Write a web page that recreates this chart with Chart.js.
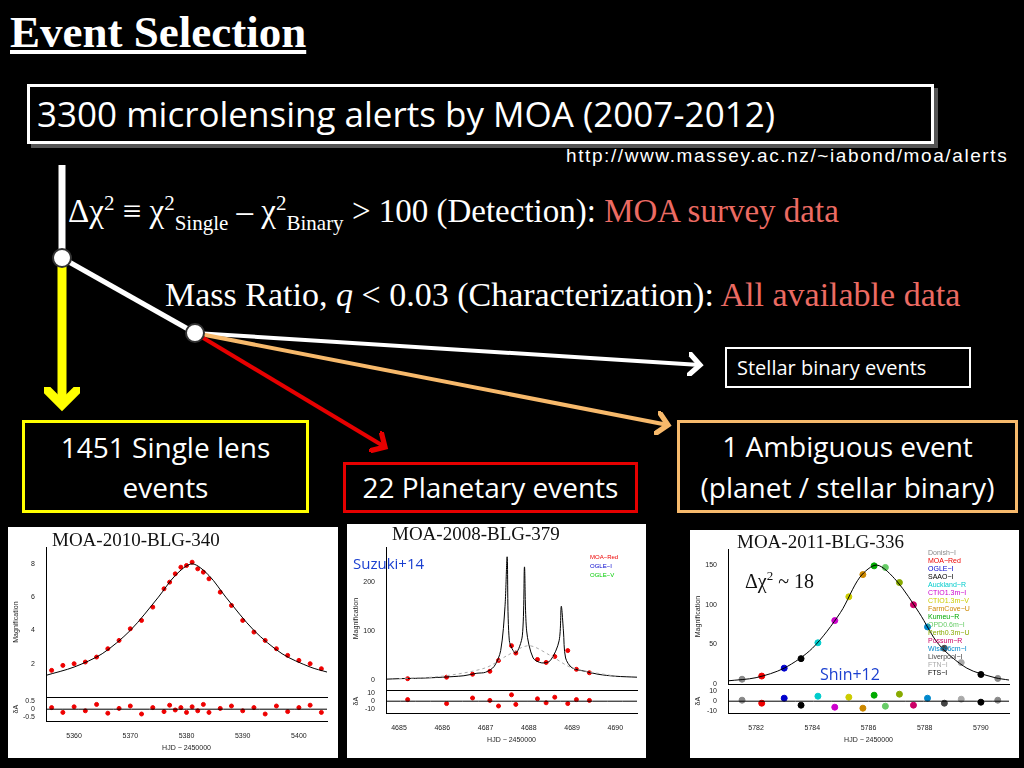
<!DOCTYPE html>
<html><head><meta charset="utf-8">
<script src="https://cdn.jsdelivr.net/npm/chart.js"></script>
<style>
body{margin:0;width:1024px;height:768px;background:#000;position:relative;overflow:hidden;font-family:"Open Sans",sans-serif;color:#fff}
.a{position:absolute;white-space:nowrap}
.serif{font-family:"Liberation Serif",serif}
.box{position:absolute;box-sizing:border-box;text-align:center;color:#fff;white-space:nowrap}
.panel{position:absolute;background:#fff}
canvas{position:absolute}
.pt{position:absolute;font-family:"Liberation Serif",serif;color:#111;font-size:19px;white-space:nowrap}
sub,sup{line-height:0}
</style></head><body>
<div class="a serif" style="left:10px;top:6px;font-size:45px;font-weight:bold;text-decoration:underline">Event Selection</div>
<div class="box" style="left:27px;top:84px;width:907px;height:60px;border:3px solid #fff;box-shadow:4px 4px 0 #555;font-size:35px;line-height:54px;text-align:left;padding-left:7px">3300 microlensing alerts by MOA (2007-2012)</div>
<div class="a" style="left:566px;top:145px;font-family:'Liberation Sans',sans-serif;font-size:19px;letter-spacing:1.6px">http://www.massey.ac.nz/~iabond/moa/alerts</div>
<div class="a serif" style="left:68px;top:193px;font-size:33px">Δχ<sup style="font-size:21px">2</sup> ≡ χ<sup style="font-size:21px">2</sup><sub style="font-size:21px">Single</sub> – χ<sup style="font-size:21px">2</sup><sub style="font-size:21px">Binary</sub> &gt; 100 (Detection): <span style="color:#ec6b63">MOA survey data</span></div>
<div class="a serif" style="left:165px;top:276px;font-size:34px">Mass Ratio, <i>q</i> &lt; 0.03 (Characterization): <span style="color:#ec6b63">All available data</span></div>
<svg width="1024" height="768" style="position:absolute;left:0;top:0">
<defs>
<marker id="mw" markerWidth="6" markerHeight="6" refX="3" refY="3" orient="auto"><path d="M0,0 L3,3 L0,6" fill="none" stroke="#fff" stroke-width="1.3"/></marker>
<marker id="mo" markerWidth="6" markerHeight="6" refX="3" refY="3" orient="auto"><path d="M0,0 L3,3 L0,6" fill="none" stroke="#f7b96b" stroke-width="1.3"/></marker>
<marker id="mr" markerWidth="6" markerHeight="6" refX="3" refY="3" orient="auto"><path d="M0,0 L3,3 L0,6" fill="none" stroke="#e60000" stroke-width="1.3"/></marker>
<marker id="my" markerWidth="4" markerHeight="4" refX="2" refY="2" orient="auto"><path d="M0,0 L2,2 L0,4" fill="none" stroke="#ffff00" stroke-width="1"/></marker>
</defs>
<line x1="62" y1="165" x2="62" y2="258" stroke="#fff" stroke-width="7"/>
<line x1="62" y1="258" x2="62" y2="405" stroke="#ffff00" stroke-width="9" marker-end="url(#my)"/>
<line x1="62" y1="258" x2="195" y2="333" stroke="#fff" stroke-width="5"/>
<line x1="195" y1="333" x2="700" y2="365" stroke="#fff" stroke-width="4" marker-end="url(#mw)"/>
<line x1="195" y1="333" x2="668" y2="425" stroke="#f7b96b" stroke-width="4" marker-end="url(#mo)"/>
<line x1="195" y1="333" x2="385" y2="447" stroke="#e60000" stroke-width="4" marker-end="url(#mr)"/>
<circle cx="62" cy="258" r="9" fill="#fff" stroke="#333" stroke-width="2"/>
<circle cx="195" cy="333" r="9" fill="#fff" stroke="#333" stroke-width="2"/>
</svg>
<div class="box" style="left:725px;top:347px;width:246px;height:41px;border:2px solid #fff;font-size:20px;line-height:37px;text-align:left;padding-left:10px">Stellar binary events</div>
<div class="box" style="left:22px;top:420px;width:287px;height:93px;border:3px solid #ffff00;font-size:28px;line-height:40px;padding-top:4px">1451 Single lens<br>events</div>
<div class="box" style="left:343px;top:462px;width:295px;height:51px;border:3px solid #e60000;font-size:28px;line-height:45px">22 Planetary events</div>
<div class="box" style="left:677px;top:420px;width:341px;height:93px;border:3px solid #f7b96b;font-size:28px;line-height:41px;padding-top:3px">1 Ambiguous event<br>(planet / stellar binary)</div>

<div class="panel" style="left:8px;top:527px;width:330px;height:231px"></div>
<div class="panel" style="left:347px;top:524px;width:299px;height:234px"></div>
<div class="panel" style="left:690px;top:530px;width:329px;height:228px"></div>
<canvas id="c1" width="320" height="165" style="left:12px;top:540px"></canvas>
<canvas id="c1r" width="320" height="62" style="left:12px;top:690px"></canvas>
<canvas id="c2" width="290" height="158" style="left:352px;top:540px"></canvas>
<canvas id="c2r" width="290" height="62" style="left:352px;top:682px"></canvas>
<canvas id="c3" width="320" height="150" style="left:694px;top:542px"></canvas>
<canvas id="c3r" width="320" height="62" style="left:694px;top:682px"></canvas>
<div class="pt" style="left:52px;top:529px">MOA-2010-BLG-340</div>
<div class="pt" style="left:392px;top:523px">MOA-2008-BLG-379</div>
<div class="pt" style="left:737px;top:531px">MOA-2011-BLG-336</div>
<div class="a" style="left:353px;top:553px;color:#1a3fd0;font-size:15px">Suzuki+14</div>
<div class="a" style="left:820px;top:663px;color:#1a3fd0;font-size:16px">Shin+12</div>
<div class="a serif" style="left:745px;top:570px;color:#111;font-size:20px">Δχ<sup style="font-size:13px">2</sup> ~ 18</div>
<div id="leg" class="a" style="left:928px;top:549px;font-size:7px;line-height:8px;font-family:'Liberation Sans',sans-serif"></div>
<div class="a" style="left:590px;top:553px;font-size:6px;line-height:9px;font-family:'Liberation Sans',sans-serif"><span style="color:#e00">MOA−Red</span><br><span style="color:#00c">OGLE−I</span><br><span style="color:#0c0">OGLE−V</span></div>
<script>
// MOA-2010-BLG-340
const lcL_x=[5356,5358,5360,5362,5364,5366,5368,5370,5372,5374,5376,5377,5378,5379,5380,5381,5382,5383,5384,5386,5388,5390,5392,5394,5396,5398,5400,5402,5404];
const lcL_y=[1.6,1.9,2.0,2.1,2.4,2.9,3.4,4.1,4.6,5.4,6.5,6.9,7.4,7.8,7.9,8.1,7.7,7.5,7.1,6.3,5.5,4.6,3.9,3.4,2.9,2.5,2.2,2.0,1.7];
const modL_x=[5355,5360,5365,5370,5375,5378,5381,5384,5387,5392,5397,5402,5405];
const modL_y=[1.3,1.8,2.6,4.0,6.0,7.3,8.0,7.3,6.0,4.0,2.6,1.8,1.5];
const resL_y=[0.1,-0.2,0.15,-0.1,0.3,-0.25,0.05,0.2,-0.3,0.1,-0.15,0.25,-0.05,0.1,-0.2,0.15,-0.1,0.3,-0.2,0.05,0.2,-0.1,0.1,-0.3,0.2,-0.15,0.1,0.25,-0.2];
const ticksL_x=[5360,5370,5380,5390,5400], ticksL_y=[2,4,6,8], ticksL_r=[-0.5,0,0.5];
// MOA-2008-BLG-379
const modM_x=[4684.7,4685,4685.5,4686,4686.5,4686.8,4687,4687.2,4687.35,4687.45,4687.5,4687.55,4687.7,4687.85,4687.9,4687.95,4688.1,4688.3,4688.5,4688.7,4688.75,4688.8,4688.85,4689,4689.3,4689.6,4690,4690.5];
const modM_y=[2,3,4,6,9,14,16,28,60,150,250,80,55,90,230,100,45,35,40,80,150,100,45,25,18,12,8,6];
const sglM_x=[4685,4686,4687,4687.5,4688,4688.5,4689,4690];
const sglM_y=[3,8,25,50,70,50,25,8];
const lcM_x=[4685.2,4686.1,4686.7,4687.1,4687.3,4687.6,4687.7,4688.2,4688.4,4688.6,4688.9,4689.1,4689.4];
const lcM_y=[3,6,12,18,40,70,55,42,36,48,60,22,15];
const resM_y=[2,-3,4,1,-6,8,-4,3,-2,5,-3,2,1];
const ticksM_x=[4685,4686,4687,4688,4689,4690], ticksM_y=[0,100,200], ticksM_r=[-10,0,10];
// MOA-2011-BLG-336
const modR_x=[5781,5782,5783,5784,5785,5785.7,5786.3,5787,5787.8,5788.5,5789.5,5790.5,5791];
const modR_y=[4,8,20,45,90,135,150,130,90,50,20,8,5];
const lcR_x=[5781.5,5782.2,5783,5783.6,5784.2,5784.8,5785.3,5785.8,5786.2,5786.6,5787.1,5787.6,5788.1,5788.7,5789.3,5790,5790.6];
const lcR_y=[6,10,20,32,52,80,110,138,149,147,128,100,72,45,27,12,7];
const resR_y=[1,-2,3,-4,5,-6,4,-7,6,-5,7,-4,3,-2,2,-1,1];
const ticksR_x=[5782,5784,5786,5788,5790], ticksR_y=[0,50,100,150], ticksR_r=[-10,0,10];
const legR=["Donish−I","MOA−Red","OGLE−I","SAAO−I","Auckland−R","CTIO1.3m−I","CTIO1.3m−V","FarmCove−U","Kumeu−R","OPD0.6m−I","Perth0.3m−U","Possum−R","Wise46cm−I","Liverpool−I","FTN−I","FTS−I"];
const legC=["#888","#e00","#00c","#000","#0cc","#c0c","#cc0","#c80","#0a0","#6c6","#8a0","#c06","#08c","#444","#aaa","#000"];
document.getElementById('leg').innerHTML=legR.map((t,i)=>`<span style="color:${legC[i]}">${t}</span>`).join('<br>');

Chart.defaults.font.size=7;Chart.defaults.color='#222';Chart.defaults.animation=false;
function pts(xs,ys){return xs.map((x,i)=>({x,y:ys[i]}));}
function mk(id,ds,xmin,xmax,ymin,ymax,ylabel,xlabel,xt,yt,showX){
 new Chart(document.getElementById(id),{type:'scatter',data:{datasets:ds},
 options:{responsive:false,devicePixelRatio:1,plugins:{legend:{display:false},tooltip:{enabled:false}},
 scales:{x:{type:'linear',min:xmin,max:xmax,grid:{display:false},border:{color:'#000'},
   afterBuildTicks:s=>{s.ticks=xt.map(v=>({value:v}));},
   ticks:{display:showX,maxRotation:0,callback:v=>String(v)},title:{display:!!xlabel,text:xlabel,padding:0}},
 y:{min:ymin,max:ymax,grid:{display:false},border:{color:'#000'},
   afterBuildTicks:s=>{s.ticks=yt.map(v=>({value:v}));},
   ticks:{callback:v=>String(v)},title:{display:true,text:ylabel,padding:0},afterFit:s=>{s.width=34}}}}});
}
const line=(d,c,dash)=>({type:'line',data:d,borderColor:c,borderWidth:1,pointRadius:0,borderDash:dash||[],tension:0.3});
const dots=(d,c)=>({data:d,backgroundColor:c,borderColor:c,pointRadius:2});
mk('c1',[line(pts(modL_x,modL_y),'#000'),dots(pts(lcL_x,lcL_y),'#e00')],5355,5405,0,9,'Magnification','',ticksL_x,ticksL_y,false);
mk('c1r',[line(pts([5355,5405],[0,0]),'#000'),dots(pts(lcL_x,resL_y),'#e00')],5355,5405,-0.75,0.75,'δA','HJD − 2450000',ticksL_x,ticksL_r,true);
mk('c2',[line(pts(sglM_x,sglM_y),'#aaa',[3,3]),line(pts(modM_x,modM_y),'#000'),dots(pts(lcM_x,lcM_y),'#e00')],4684.7,4690.5,-20,270,'Magnification','',ticksM_x,ticksM_y,false);
mk('c2r',[line(pts([4684.7,4690.5],[0,0]),'#000'),dots(pts(lcM_x,resM_y),'#e00')],4684.7,4690.5,-15,15,'δA','HJD − 2450000',ticksM_x,ticksM_r,true);
const rc=lcR_x.map((x,i)=>legC[i%legC.length]);
mk('c3',[line(pts(modR_x,modR_y),'#000'),{data:pts(lcR_x,lcR_y),backgroundColor:rc,borderColor:rc,pointRadius:3}],5781,5791,0,170,'Magnification','',ticksR_x,ticksR_y,false);
mk('c3r',[line(pts([5781,5791],[0,0]),'#000'),{data:pts(lcR_x,resR_y),backgroundColor:rc,borderColor:rc,pointRadius:3}],5781,5791,-12,12,'δA','HJD − 2450000',ticksR_x,ticksR_r,true);
</script>
</body></html>
